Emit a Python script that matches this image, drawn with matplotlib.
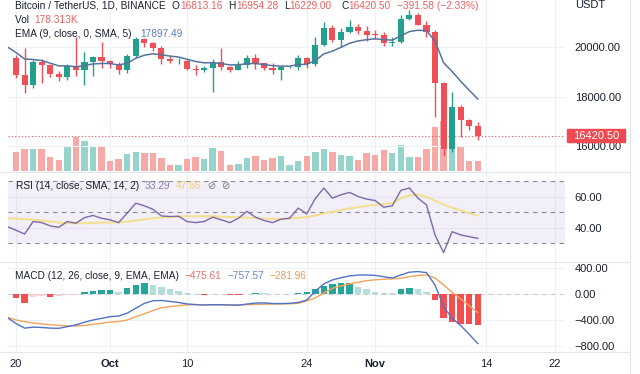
import numpy as np
import pandas as pd
import matplotlib
matplotlib.use("Agg")
import matplotlib.pyplot as plt
from matplotlib.lines import Line2D
from matplotlib.patches import Rectangle
from matplotlib.transforms import blended_transform_factory

plt.rcParams['font.family'] = ['Liberation Sans', 'DejaVu Sans']

# --- CONFIG ---
W, H = 640, 374
GREEN = '#22a08c'
RED = '#ef4f57'
VOL_GREEN = '#95d3cb'
VOL_RED = '#f6aaa8'
GRID = '#eef1f6'
SEP = '#e3e6ec'
TXT = '#1c2030'
VAL_RED = '#e8625f'

# --- DATA (daily, 2022-09-20 .. 2022-11-13) ---
dates = pd.date_range("2022-09-20", "2022-11-13", freq="D")
opens = [19540, 18875, 18484, 19402, 19289, 18920, 18803, 19222, 19079, 19413, 19592,
         19422, 19312, 19057, 19629, 20337, 20158, 19961, 19531, 19417, 19446, 19131,
         19060, 19155, 19382, 19185, 19068, 19268, 19550, 19334, 19139, 19053, 19172,
         19204, 19570, 19330, 20080, 20771, 20295, 20591, 20809, 20627,
         20490, 20482, 20151, 20207, 21148, 21300, 20905, 20591, 18541, 15880, 17586,
         17034, 16813.16]
highs = [19690, 19956, 19490, 19500, 19316, 19050, 19316, 20385, 19790, 19645, 20185,
         19485, 19395, 19719, 20400, 20365, 20200, 20041, 19617, 19559, 19515, 19268,
         19213, 19513, 19951, 19226, 19425, 19676, 19706, 19361, 19347, 19250, 19248,
         19695, 19601, 20415, 21020, 20877, 20750, 21085, 20931, 20840,
         20700, 20600, 20393, 21302, 21480, 21365, 21070, 20670, 18591, 18200, 17650,
         17100, 16954.28]
lows = [18760, 18125, 18356, 18531, 18805, 18634, 18682, 18816, 18471, 18843, 19156,
        19159, 18920, 18959, 19560, 20000, 19853, 19320, 19367, 19320, 19052, 18860,
        19000, 18190, 19070, 18975, 19064, 19160, 19100, 19078, 18900, 18650, 19132,
        19069, 19160, 19240, 20050, 20200, 20000, 20550, 20515, 20237,
        20330, 20050, 20032, 20180, 21080, 20880, 20400, 17167, 15588, 15770, 16380,
        16650, 16229.00]
closes = [18876, 18484, 19402, 19289, 18920, 18803, 19222, 19079, 19413, 19592, 19422,
          19310, 19056, 19629, 20337, 20158, 19961, 19531, 19417, 19446, 19131, 19060,
          19155, 19382, 19185, 19068, 19268, 19550, 19334, 19139, 19053, 19172, 19204,
          19570, 19330, 20080, 20771, 20295, 20591, 20809, 20627, 20490,
          20482, 20151, 20207, 21148, 21300, 20905, 20591, 18541, 15880, 17586, 17034,
          16813, 16420.50]
volume_k = [326, 386, 386, 386, 237, 190, 445, 593, 534, 415, 445,
            166, 208, 297, 326, 320, 320, 231, 107, 107, 208, 237,
            208, 404, 356, 107, 119, 226, 267, 190, 226, 267, 107,
            166, 255, 326, 386, 326, 285, 255, 190, 308,
            279, 374, 315, 463, 249, 237, 386, 783, 890, 534, 416,
            178, 178.313]
price_change = [-391.58, -2.33]

# indicator lines begin one day earlier (2022-09-19, at the left edge)
ema9 = [20000, 19775, 19517, 19494, 19453, 19347, 19238, 19235, 19204, 19246, 19315, 19336,
        19331, 19276, 19347, 19545, 19668, 19726, 19687, 19633, 19596, 19503, 19414,
        19362, 19366, 19330, 19278, 19276, 19331, 19331, 19293, 19245, 19230, 19225,
        19294, 19301, 19456, 19719, 19834, 19986, 20150, 20246, 20295,
        20332, 20296, 20278, 20452, 20622, 20678, 20661, 20237, 19366, 19010, 18615,
        18252, 17897.49]
rsi = [40.8, 38.5, 36.1, 44.1, 43.4, 41.3, 40.4, 44.1, 43.0, 46.6, 48.0, 46.2,
       45.2, 43.4, 49.5, 55.9, 54.2, 52.0, 47.7, 47.3, 47.5, 44.1, 43.4, 44.1, 46.9,
       45.2, 43.4, 46.2, 50.6, 46.9, 44.8, 43.4, 45.6, 46.2, 52.7, 49.0, 58.9, 65.6,
       59.1, 61.3, 62.8, 60.2, 58.5,
       57.6, 53.3, 54.2, 64.1, 65.6, 59.1, 54.8, 35.5, 24.1, 37.6, 35.5, 34.4, 33.29]
rsi_sma = [46.2, 45.9, 45.6, 45.2, 44.8, 44.1, 43.4, 43.0, 43.0, 43.0, 43.2, 43.4,
           43.5, 43.5, 44.0, 44.8, 45.5, 46.2, 46.7, 47.0, 47.3, 47.5, 47.5, 47.5, 47.5,
           47.3, 47.0, 46.8, 46.6, 46.3, 46.0, 45.8, 45.8, 46.0, 46.5, 46.9, 48.0, 49.3,
           50.5, 51.5, 52.5, 53.3, 54.2,
           54.8, 55.3, 55.9, 59.0, 61.0, 61.3, 60.0, 57.5, 55.0, 53.0, 51.2, 49.5, 47.86]
macd = [-360, -450, -520, -505, -510, -520, -523, -497, -470, -430, -395, -370,
        -344, -334, -290, -215, -140, -100, -95, -110, -125, -149, -158, -165, -160,
        -160, -165, -168, -150, -135, -132, -142, -143, -139, -125, -90, 50, 160,
        220, 255, 282, 295, 297,
        290, 270, 250, 297, 340, 349, 333, 143, -190, -369, -480, -615, -757.57]
signal = [-354, -395, -421, -440, -455, -468, -478, -485, -487, -478, -462, -445,
          -428, -418, -395, -345, -300, -250, -207, -190, -175, -162, -160, -160, -161,
          -162, -163, -163, -160, -156, -152, -150, -148, -145, -140, -100, -55, 20,
          92, 128, 159, 185, 210,
          222, 231, 238, 246, 270, 290, 297, 250, 143, 30, -70, -175, -281.96]
hist_prev = -20  # 2022-09-19 bar, off the left edge
hist = [-50, -130, -40, -25, -45, -20, -10, -5, 35, 55, 65,
        68, 40, 90, 145, 170, 145, 110, 80, 50, 15, 5, -5, 5, 3, -4, -8, 10, 25, 22, 8,
        5, 6, 15, 30, 75, 128, 159, 169, 179, 118, 77,
        41, 26, 20, 77, 102, 77, 41, -87, -369, -420, -456, -461, -475.61]

tick_days = [0, 11, 20, 34, 42, 55, 63]
tick_labels = ["20", "Oct", "10", "24", "Nov", "14", "22"]

# --- LAYOUT ---
x = np.arange(len(dates))
x_ind = np.arange(-1, len(dates))
XLIM = (-0.94, 64.2)


def rect(top, bottom):
    return [8 / W, 1 - bottom / H, (565 - 8) / W, (bottom - top) / H]


def chain(px, py, parts, size=7.3):
    # consecutive text pieces, each starting where the previous one ends
    for s, col in parts:
        t = fig.text(px / W, 1 - py / H, s, color=col, fontsize=size, va='center', ha='left',
                     family=['Liberation Sans', 'DejaVu Sans'])
        px += t.get_window_extent(renderer).width


def fmt(v):
    return f"{v:.2f}".replace("-", "\u2212")


fig = plt.figure(figsize=(W / 100, H / 100), dpi=100)
renderer = fig.canvas.get_renderer()
ax_vol = fig.add_axes(rect(0, 171.7))
ax = fig.add_axes(rect(0, 171.7))
ax_rsi = fig.add_axes(rect(171.7, 261.7))
ax_macd = fig.add_axes(rect(261.7, 352))
ax.set_facecolor('none')

for a in (ax_vol, ax, ax_rsi, ax_macd):
    a.set_xlim(*XLIM)
    for s in a.spines.values():
        s.set_visible(False)
    a.set_xticks(tick_days)
    a.tick_params(axis='x', length=0, labelbottom=False)
    a.yaxis.tick_right()
    a.tick_params(axis='y', length=0, pad=7, labelsize=8, labelcolor=TXT)

# volume behind candles
o, h, l, c = map(np.array, (opens, highs, lows, closes))
up = c >= o
ax_vol.bar(x, volume_k, width=0.75, color=np.where(up, VOL_GREEN, VOL_RED), lw=0)
ax_vol.set_ylim(-18, 3040)
ax_vol.set_yticks([])
ax_vol.grid(axis='x', color=GRID, lw=0.8)
ax_vol.set_axisbelow(True)

# candles
ccol = np.where(up, GREEN, RED)
ax.vlines(x, l, h, colors=ccol, lw=1, zorder=3)
ax.bar(x, np.maximum(np.abs(c - o), 25), bottom=np.minimum(o, c), width=0.72,
       color=ccol, lw=0, zorder=4)
ax.plot(x_ind, ema9, color='#56739f', lw=1.1, zorder=5)
ax.axhline(closes[-1], color=RED, lw=0.8, ls=(0, (1, 2)), zorder=2)
ax.set_ylim(14962, 21899)
ax.set_yticks([16000, 18000, 20000], ["16000.00", "18000.00", "20000.00"])
ax.grid(axis='y', color=GRID, lw=0.8)
ax.set_axisbelow(True)

# last price tag on the scale
tag_tr = blended_transform_factory(fig.transFigure, ax.transData)
ax.add_patch(Rectangle((567 / W, closes[-1] - 270), 58 / W, 540, transform=tag_tr,
                       color='#ee4a52', clip_on=False, zorder=6))
ax.text(596 / W, closes[-1], f"{closes[-1]:.2f}", transform=tag_tr, color='white',
        fontsize=8, ha='center', va='center', zorder=7)

# RSI pane
ax_rsi.axhspan(30, 70, color='#7e57c2', alpha=0.09, lw=0)
for lvl in (70, 50, 30):
    ax_rsi.axhline(lvl, color='#8a8d96', lw=0.8, ls=(0, (4, 4)))
ax_rsi.plot(x_ind, rsi_sma, color='#f5df8e', lw=1.4)
ax_rsi.plot(x_ind, rsi, color='#7a6aa8', lw=1.0)
ax_rsi.set_ylim(18.3, 76.1)
ax_rsi.set_yticks([40, 60], ["40.00", "60.00"])
ax_rsi.grid(color=GRID, lw=0.8)
ax_rsi.set_axisbelow(True)

# MACD pane
hv = np.array(hist)
prev = np.concatenate([[hist_prev], hv[:-1]])
hcol = np.where(hv >= 0, np.where(hv >= prev, '#26a69a', '#b2dfdb'),
                np.where(hv < prev, '#f44e4e', '#ffcdd2'))
ax_macd.bar(x, hist, width=0.75, color=hcol, lw=0, zorder=2)
ax_macd.axhline(0, color='#c9ccd3', lw=0.8, ls=(0, (4, 4)), zorder=1)
ax_macd.plot(x_ind, signal, color='#f0a35a', lw=1.0, zorder=3)
ax_macd.plot(x_ind, macd, color='#5073c8', lw=1.0, zorder=4)
ax_macd.set_ylim(-887, 501)
ax_macd.set_yticks([400, 0, -400, -800], ["400.00", "0.00", "\u2212400.00", "\u2212800.00"])
ax_macd.grid(color=GRID, lw=0.8)
ax_macd.set_axisbelow(True)
ax_macd.set_xticks(tick_days, tick_labels)
ax_macd.tick_params(axis='x', labelbottom=True, labelsize=8, labelcolor=TXT, pad=5)
for t in ax_macd.get_xticklabels():
    if t.get_text() in ("Oct", "Nov"):
        t.set_fontweight('bold')

# pane separators and scale border
for py in (171.7, 261.7, 352):
    fig.add_artist(Line2D([0, 630 / W], [1 - py / H] * 2, color=SEP, lw=0.8))
fig.add_artist(Line2D([630 / W] * 2, [0, 1], color=SEP, lw=0.8))

# legends / headers
chain(15, 6, [("Bitcoin / TetherUS, 1D, BINANCE", TXT)])
chain(172, 6, [("O", TXT), (fmt(opens[-1]), VAL_RED)])
chain(228.5, 6, [("H", TXT), (fmt(highs[-1]), VAL_RED)])
chain(284, 6, [("L", TXT), (fmt(lows[-1]), VAL_RED)])
chain(341, 6, [("C", TXT), (fmt(closes[-1]), VAL_RED)])
chain(397, 6, [(f"{fmt(price_change[0])} ({fmt(price_change[1])}%)", VAL_RED)])
chain(15, 20, [("Vol  ", TXT), (f"{volume_k[-1]:.3f}K", VAL_RED)])
chain(15, 34, [("EMA (9, close, 0, SMA, 5)   ", TXT), (fmt(ema9[-1]), '#5b7dbd')])
chain(575, 5, [("USDT", TXT)], size=8)

chain(16, 186, [("RSI (14, close, SMA, 14, 2)  ", TXT), (fmt(rsi[-1]), '#8a80b8'),
                ("  ", TXT), (fmt(rsi_sma[-1]), '#f2d36a'),
                ("  \u2298  \u2298", '#777a82')])
chain(15, 276, [("MACD (12, 26, close, 9, EMA, EMA)  ", TXT), (fmt(hist[-1]), '#e8706c'),
                ("  ", TXT), (fmt(macd[-1]), '#6a86c8'),
                ("  ", TXT), (fmt(signal[-1]), '#e0a155')])

fig.savefig("out.png", dpi=100, facecolor='white')
